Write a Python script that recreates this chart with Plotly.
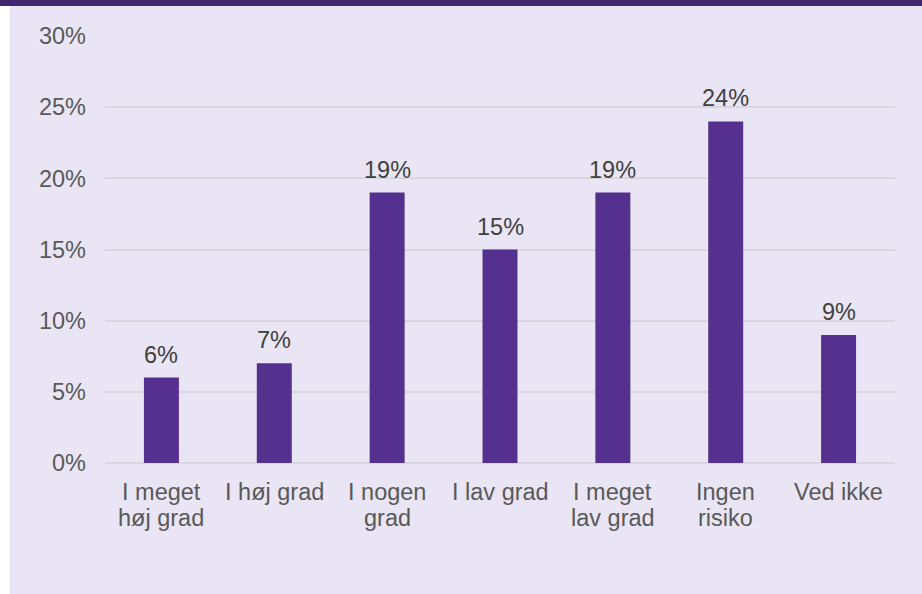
import plotly.graph_objects as go

categories = ["I meget<br>høj grad", "I høj grad", "I nogen<br>grad", "I lav grad",
              "I meget<br>lav grad", "Ingen<br>risiko", "Ved ikke"]
values = [6, 7, 19, 15, 19, 24, 9]
y_ticks = [0, 5, 10, 15, 20, 25, 30]
y_tick_labels = [f"{v}%" for v in y_ticks]

bar_color = "#55318F"
bg_color = "#E9E5F4"
band_color = "#41256F"
text_color = "#595959"
label_color = "#404040"
grid_color = "#D9D7DE"
font_family = "Liberation Sans, Arial, sans-serif"
fsize = 23.5

W, H = 922, 594
ML, MR, MT, MB = 105, 27, 36, 131
PW, PH = W - ML - MR, H - MT - MB

fig = go.Figure(
    go.Bar(
        x=categories,
        y=values,
        marker=dict(color=bar_color, line=dict(width=0)),
        width=0.31,
        hoverinfo="x+y",
    )
)

annotations = []
# data labels above bars
for c, v in zip(categories, values):
    annotations.append(dict(
        x=c, y=v, xref="x", yref="y", text=f"{v}%", showarrow=False,
        yanchor="middle", yshift=23,
        font=dict(size=fsize, color=label_color, family=font_family),
    ))
# category labels, one annotation per line for tight line spacing
for c in categories:
    for j, line in enumerate(c.split("<br>")):
        annotations.append(dict(
            x=c, y=0, xref="x", yref="paper", text=line, showarrow=False,
            yanchor="middle", yshift=-(29 + 26 * j),
            font=dict(size=fsize, color=text_color, family=font_family),
        ))

fig.update_layout(
    width=W,
    height=H,
    paper_bgcolor="white",
    plot_bgcolor=bg_color,
    margin=dict(l=ML, r=MR, t=MT, b=MB),
    showlegend=False,
    font=dict(family=font_family, size=fsize, color=text_color),
    annotations=annotations,
    shapes=[
        dict(type="rect", xref="paper", yref="paper", layer="below",
             x0=-(ML - 10) / PW, x1=1 + MR / PW, y0=-MB / PH, y1=1 + (MT - 6) / PH,
             fillcolor=bg_color, line=dict(width=0)),
        dict(type="rect", xref="paper", yref="paper", layer="below",
             x0=-ML / PW, x1=1 + MR / PW, y0=1 + (MT - 6) / PH, y1=1 + MT / PH,
             fillcolor=band_color, line=dict(width=0)),
    ],
)

fig.update_xaxes(
    showgrid=False,
    showline=False,
    ticks="",
    showticklabels=False,
)
fig.update_yaxes(
    range=[0, 30],
    tickvals=y_ticks,
    ticktext=y_tick_labels,
    showgrid=True,
    gridcolor=grid_color,
    gridwidth=1.5,
    zeroline=True,
    zerolinecolor=grid_color,
    zerolinewidth=2,
    showline=False,
    ticks="",
    tickfont=dict(size=fsize, color=text_color),
    ticklabelstandoff=18,
)

fig.write_html(
    "out.html",
    config={"displayModeBar": False},
    post_script="document.body.style.margin='0';document.body.style.overflow='hidden';",
)
